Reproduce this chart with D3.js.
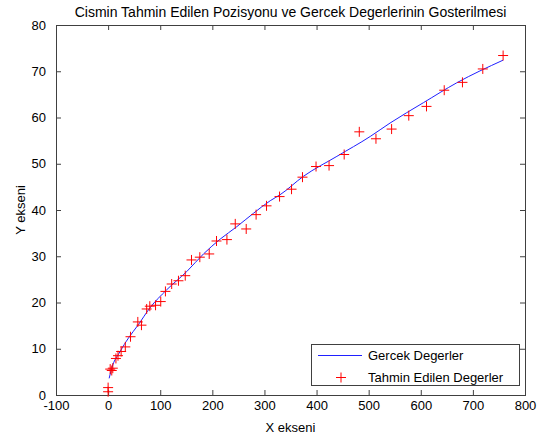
<!DOCTYPE html>
<html><head><meta charset="utf-8">
<script src="https://cdn.jsdelivr.net/npm/d3@7"></script>
<style>
body{margin:0;background:#fff}
text{font-family:"Liberation Sans",Arial,Helvetica,sans-serif}
</style>
</head><body><svg id="c" width="550" height="441"></svg>
<script>
// Gercek Degerler (true path)
const lineX = [2, 7, 23, 39, 58, 80, 112, 151, 183, 215, 247, 279, 311, 330, 375, 439, 503, 541, 605, 669, 758];
const lineY = [3.6, 5.8, 9.4, 12.3, 15.2, 18.8, 22.7, 26.7, 30.5, 33.7, 36.4, 39.3, 42.0, 43.3, 47.3, 51.6, 55.9, 58.8, 63.2, 67.5, 72.4];
// Tahmin Edilen Degerler (estimates)
const predX = [0, 0, 4, 7, 9, 15, 19, 25, 33, 43, 57, 64, 74, 80, 91, 101, 110, 122, 135, 148, 160, 176, 194, 208, 228, 244, 265, 284, 304, 329, 352, 373, 399, 424, 453, 482, 514, 544, 577, 611, 645, 680, 719, 758];
const predY = [0.7, 1.6, 5.6, 5.3, 5.8, 7.9, 8.5, 9.4, 10.4, 12.6, 15.8, 15.1, 18.6, 19.2, 19.4, 20.2, 22.4, 24.0, 24.7, 25.8, 29.2, 29.8, 30.5, 33.3, 33.6, 37.0, 35.9, 39.0, 40.9, 42.9, 44.5, 47.1, 49.4, 49.6, 52.0, 56.9, 55.4, 57.5, 60.4, 62.4, 65.9, 67.6, 70.5, 73.4];
const xTicks = [-100, 0, 100, 200, 300, 400, 500, 600, 700, 800];
const yTicks = [0, 10, 20, 30, 40, 50, 60, 70, 80];
const titleText = "Cismin Tahmin Edilen Pozisyonu ve Gercek Degerlerinin Gosterilmesi";
const xLabelText = "X ekseni";
const yLabelText = "Y ekseni";
const legendLabels = ["Gercek Degerler", "Tahmin Edilen Degerler"];

const svg = d3.select("#c");
const L = 56, R = 525, T = 25, B = 395;
const x = d3.scaleLinear().domain([-100, 800]).range([L, R]);
const y = d3.scaleLinear().domain([0, 80]).range([B, T]);
const axisColor = "#404040";
const fs = "13px";
const lineColor = "#2020ff";
const fmt = d => String(d);

svg.append("rect").attr("width", 550).attr("height", 441).attr("fill", "#fff");

function styleAxis(g, hideText) {
  g.select(".domain").remove();
  g.selectAll(".tick line").attr("stroke", axisColor);
  g.selectAll("text").attr("fill", "#000").style("font-size", fs)
    .style("font-family", '"Liberation Sans",Arial,sans-serif');
  if (hideText) g.selectAll("text").remove();
}
svg.append("g").attr("transform", `translate(0,${B})`)
  .call(d3.axisBottom(x).tickValues(xTicks).tickSizeInner(-5).tickSizeOuter(0).tickPadding(6).tickFormat(fmt))
  .call(g => styleAxis(g, false));
svg.append("g").attr("transform", `translate(0,${T})`)
  .call(d3.axisTop(x).tickValues(xTicks).tickSizeInner(-5).tickSizeOuter(0))
  .call(g => styleAxis(g, true));
svg.append("g").attr("transform", `translate(${L},0)`)
  .call(d3.axisLeft(y).tickValues(yTicks).tickSizeInner(-5).tickSizeOuter(0).tickPadding(10).tickFormat(fmt))
  .call(g => styleAxis(g, false));
svg.append("g").attr("transform", `translate(${R},0)`)
  .call(d3.axisRight(y).tickValues(yTicks).tickSizeInner(-5).tickSizeOuter(0))
  .call(g => styleAxis(g, true));

svg.append("rect").attr("x", L + 0.5).attr("y", T + 0.5).attr("width", R - L).attr("height", B - T)
  .attr("fill", "none").attr("stroke", axisColor).attr("stroke-width", 1);

// line
const pts = lineX.map((d, i) => [d, lineY[i]]);
svg.append("path").datum(pts)
  .attr("d", d3.line().x(d => x(d[0])).y(d => y(d[1])).curve(d3.curveMonotoneX))
  .attr("fill", "none").attr("stroke", lineColor).attr("stroke-width", 1);

// markers
const plus = (cx, cy, s) => `M${cx - s},${cy}H${cx + s}M${cx},${cy - s}V${cy + s}`;
const mk = predX.map((d, i) => [d, predY[i]]);
svg.append("g").selectAll("path").data(mk).join("path")
  .attr("d", d => plus(x(d[0]), y(d[1]), 5))
  .attr("stroke", "#f00").attr("stroke-width", 1).attr("fill", "none");

// title & labels
svg.append("text").attr("x", (L + R) / 2).attr("y", 17).attr("text-anchor", "middle")
  .style("font-size", "14px").text(titleText);
svg.append("text").attr("x", (L + R) / 2).attr("y", 432).attr("text-anchor", "middle")
  .style("font-size", fs).text(xLabelText);
svg.append("text").attr("transform", `translate(25,${(T + B) / 2}) rotate(-90)`).attr("text-anchor", "middle")
  .style("font-size", fs).text(yLabelText);

// legend
const lg = svg.append("g");
lg.append("rect").attr("x", 311.5).attr("y", 344.5).attr("width", 208).attr("height", 41)
  .attr("fill", "#fff").attr("stroke", axisColor);
lg.append("line").attr("x1", 318).attr("x2", 362).attr("y1", 355.5).attr("y2", 355.5)
  .attr("stroke", lineColor).attr("stroke-width", 1);
lg.append("path").attr("d", plus(341, 377.5, 5)).attr("stroke", "#f00").attr("fill", "none");
lg.selectAll("text.lgt").data(legendLabels).join("text").attr("class", "lgt")
  .attr("x", 368).attr("y", (d, i) => 360 + i * 22).style("font-size", fs).text(d => d);
</script>
</body></html>
